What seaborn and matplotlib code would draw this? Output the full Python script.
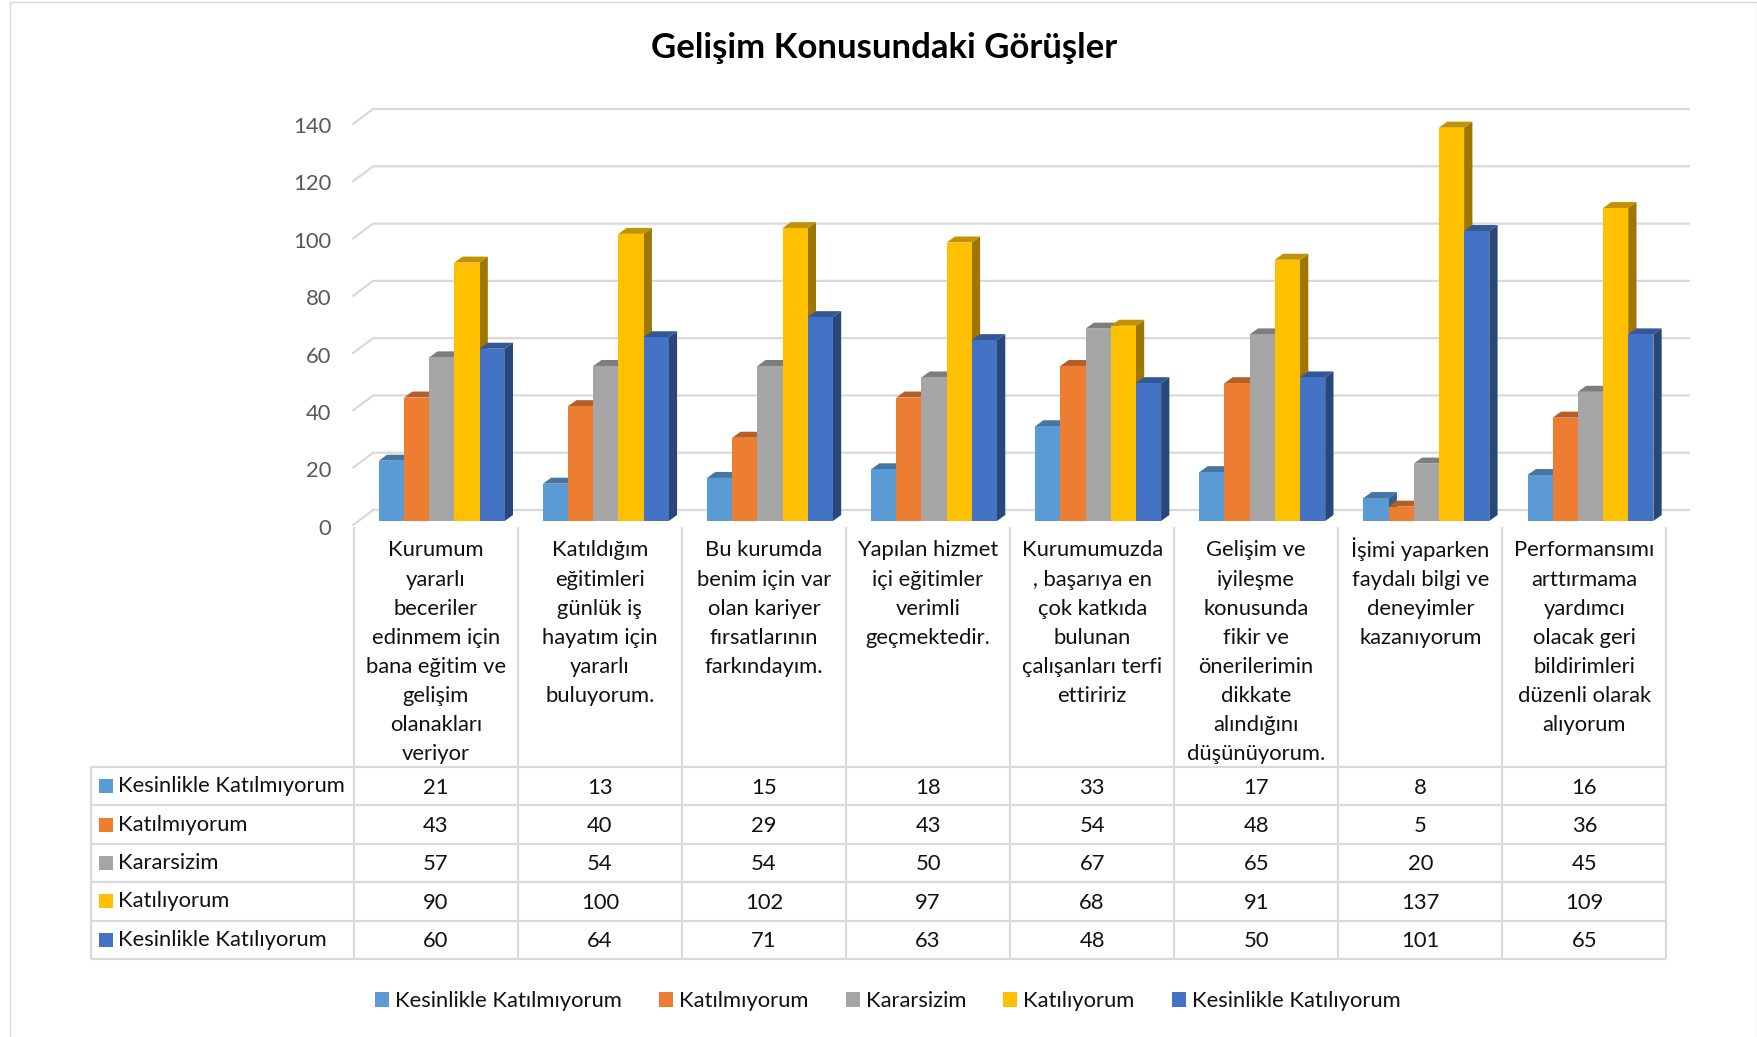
import numpy as np
import pandas as pd
import matplotlib
matplotlib.use("Agg")
import matplotlib.pyplot as plt
from matplotlib.patches import Polygon, Rectangle
from matplotlib.lines import Line2D
from matplotlib.transforms import Affine2D, ScaledTranslation
import matplotlib.colors as mc
import seaborn as sns

categories = [
    "Kurumum\nyararlı\nbeceriler\nedinmem için\nbana eğitim ve\ngelişim\nolanakları\nveriyor",
    "Katıldığım\neğitimleri\ngünlük iş\nhayatım için\nyararlı\nbuluyorum.",
    "Bu kurumda\nbenim için var\nolan kariyer\nfırsatlarının\nfarkındayım.",
    "Yapılan hizmet\niçi eğitimler\nverimli\ngeçmektedir.",
    "Kurumumuzda\n, başarıya en\nçok katkıda\nbulunan\nçalışanları terfi\nettiririz",
    "Gelişim ve\niyileşme\nkonusunda\nfikir ve\nönerilerimin\ndikkate\nalındığını\ndüşünüyorum.",
    "İşimi yaparken\nfaydalı bilgi ve\ndeneyimler\nkazanıyorum",
    "Performansımı\narttırmama\nyardımcı\nolacak geri\nbildirimleri\ndüzenli olarak\nalıyorum",
]
series_names = ["Kesinlikle Katılmıyorum", "Katılmıyorum", "Kararsizim", "Katılıyorum", "Kesinlikle Katılıyorum"]
kesinlikle_katilmiyorum = [21, 13, 15, 18, 33, 17, 8, 16]
katilmiyorum = [43, 40, 29, 43, 54, 48, 5, 36]
kararsizim = [57, 54, 54, 50, 67, 65, 20, 45]
katiliyorum = [90, 100, 102, 97, 68, 91, 137, 109]
kesinlikle_katiliyorum = [60, 64, 71, 63, 48, 50, 101, 65]
colors = ["#5B9BD5", "#ED7D31", "#A5A5A5", "#FFC000", "#4472C4"]
y_ticks = [0, 20, 40, 60, 80, 100, 120, 140]
title = "Gelişim Konusundaki Görüşler"

all_series = [kesinlikle_katilmiyorum, katilmiyorum, kararsizim, katiliyorum, kesinlikle_katiliyorum]
df = pd.DataFrame({
    "cat": [c for _ in series_names for c in categories],
    "series": [s for s in series_names for _ in categories],
    "val": [v for s in all_series for v in s],
})

W, H = 1758, 1037
sns.set_theme(style="white")
plt.rcParams["font.family"] = ["Lato", "DejaVu Sans"]
FS = 15.8
GRID = "#D9D9D9"

fig = plt.figure(figsize=(W / 100, H / 100), dpi=100, facecolor="white")
px = Affine2D().scale(1 / W, -1 / H).translate(0, 1) + fig.transFigure

# layout (pixels)
CW = 164.1
X_EDGE0 = 353.7
Y0 = 521
PV = 2.871
BAR_SHIFT = 6.0
ax_left = X_EDGE0 + BAR_SHIFT
ax_w = 8 * CW
ax_h = 140 * PV
ax = fig.add_axes([ax_left / W, (H - Y0) / H, ax_w / W, ax_h / H])
ax.patch.set_alpha(0)

sns.barplot(data=df, x="cat", y="val", hue="series", order=categories, hue_order=series_names,
            palette=colors, saturation=1, width=0.767, gap=0, dodge=True, ax=ax, legend=False,
            linewidth=0, errorbar=None)
ax.set_xlim(-0.5, 7.5)
ax.set_ylim(0, 140)
ax.set_xlabel("")
ax.set_ylabel("")
sns.despine(ax=ax, left=True, bottom=True, right=True, top=True)

# 3D extrusion of bars
DX = 8.3 / CW
DY = 6.0 / PV
def shade(c, f):
    r = np.array(mc.to_rgb(c)) * f
    return tuple(r)
for si, cont in enumerate(ax.containers):
    for ci, b in enumerate(cont):
        x0, w, h = b.get_x(), b.get_width(), b.get_height()
        x1 = x0 + w
        z = 5 + 3 * si
        b.set_zorder(z + 2)
        ax.add_patch(Polygon([(x1, 0), (x1 + DX, DY), (x1 + DX, h + DY), (x1, h)], closed=True,
                             fc=shade(colors[si], 0.62), ec="none", zorder=z, clip_on=False))
        ax.add_patch(Polygon([(x0, h), (x0 + DX, h + DY), (x1 + DX, h + DY), (x1, h)], closed=True,
                             fc=shade(colors[si], 0.76), ec="none", zorder=z + 1, clip_on=False))

# back wall gridlines and floor edges
GX_F = (353 - ax_left) / CW - 0.5
GX_B = (373 - ax_left) / CW - 0.5
GX_R = (1689 - ax_left) / CW - 0.5
GRID_SCALE = 2.864 / PV
for v in y_ticks:
    yf = v * GRID_SCALE - 4 / PV
    yb = v * GRID_SCALE + 11 / PV
    ax.plot([GX_F, GX_B, GX_R], [yf, yb, yb], color=GRID, lw=1.6, zorder=1, clip_on=False,
            solid_joinstyle="miter")

# value axis
ax.set_yticks(y_ticks)
ax.set_yticklabels([str(t) for t in y_ticks], fontsize=FS, color="#595959")
ax.tick_params(axis="y", length=0, pad=20.4)
off = ScaledTranslation(0, -5.8 / 100, fig.dpi_scale_trans)
for lab in ax.get_yticklabels():
    lab.set_transform(lab.get_transform() + off)

# category labels
ax.tick_params(axis="x", length=0, pad=14)
ax.set_xticks(range(len(categories)))
ax.set_xticklabels(categories, fontsize=FS, color="#111111", linespacing=1.57, ha="center", va="top")
offx = ScaledTranslation(-BAR_SHIFT / 100, 0, fig.dpi_scale_trans)
offi = ScaledTranslation(-BAR_SHIFT / 100, 3.4 / 100, fig.dpi_scale_trans)
for lab in ax.get_xticklabels():
    lab.set_transform(lab.get_transform() + (offi if lab.get_text().startswith("İ") else offx))

# data table
ROW_TOP = 767
RH = 38.4
TL = 91
edges = [X_EDGE0 + i * CW for i in range(len(categories) + 1)]
n_rows = len(series_names)
def line(xs, ys):
    fig.add_artist(Line2D(xs, ys, transform=px, color=GRID, lw=1.6, solid_capstyle="butt"))
for e in edges:
    line([e, e], [527, ROW_TOP + n_rows * RH])
line([TL, TL], [ROW_TOP, ROW_TOP + n_rows * RH])
for r in range(n_rows + 1):
    y = ROW_TOP + r * RH
    line([TL, edges[-1]], [y, y])
for r, (name, vals, col) in enumerate(zip(series_names, all_series, colors)):
    yc = ROW_TOP + (r + 0.5) * RH
    fig.add_artist(Rectangle((99, yc - 7), 14, 14, transform=px, fc=col, ec="none"))
    fig.text(118.5, yc, name, transform=px, fontsize=FS, color="#111111", va="center", ha="left")
    for i, v in enumerate(vals):
        fig.text((edges[i] + edges[i + 1]) / 2, yc + 1.5, str(v), transform=px, fontsize=FS,
                 color="#111111", va="center", ha="center")

# title
fig.text(884, 48, title, transform=px, fontsize=25, fontweight="bold", color="black",
         ha="center", va="center")

# legend
handles = [Rectangle((0, 0), 1, 1, fc=c, ec="none") for c in colors]
ax.legend(handles, series_names, loc="center", bbox_to_anchor=(888 / W, 1 - 1001 / H),
          bbox_transform=fig.transFigure, ncol=5, frameon=False, fontsize=FS,
          handlelength=0.64, handleheight=0.64, handletextpad=0.27, columnspacing=1.69,
          labelcolor="#111111", borderpad=0, borderaxespad=0)

# outer frame
fig.add_artist(Line2D([10, 10, 1757, 1757], [H + 5, 2, 2, H + 5], transform=px, color=GRID, lw=1.0))

fig.savefig("out.png", dpi=100, facecolor="white")
